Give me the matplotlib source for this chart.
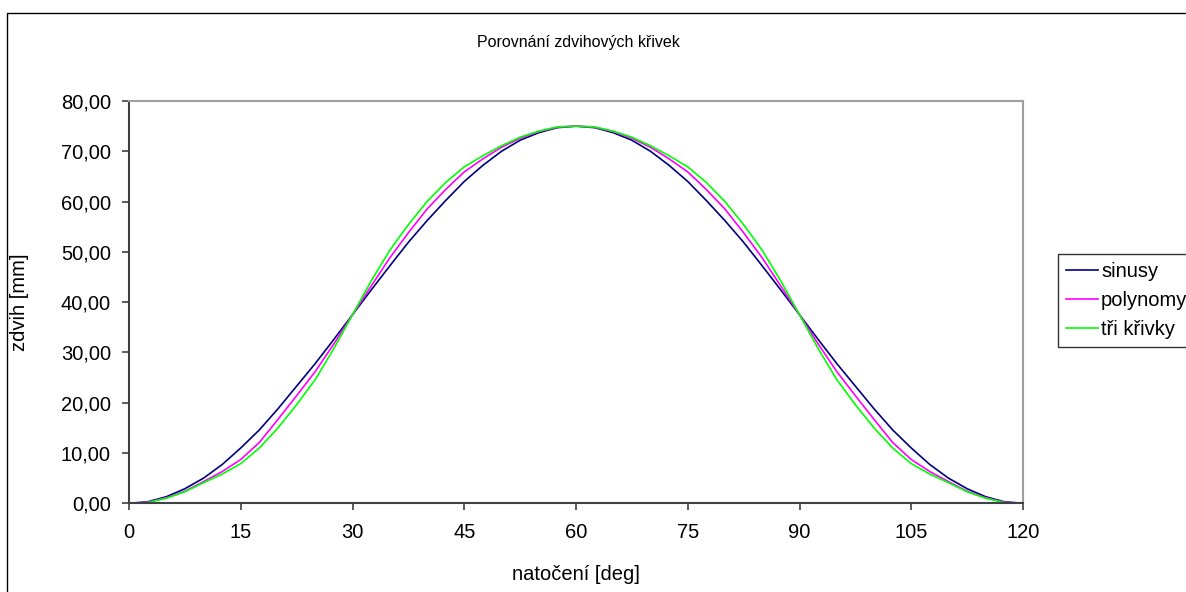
import matplotlib.pyplot as plt
from matplotlib.patches import Rectangle
from matplotlib.ticker import FuncFormatter

plt.rcParams['font.family'] = ['Liberation Sans', 'DejaVu Sans']

# ---------- Data ----------

natoceni = [0, 2.5, 5, 7.5, 10, 12.5, 15, 17.5, 20, 22.5, 25, 27.5, 30,
            32.5, 35, 37.5, 40, 42.5, 45, 47.5, 50, 52.5, 55, 57.5, 60,
            62.5, 65, 67.5, 70, 72.5, 75, 77.5, 80, 82.5, 85, 87.5, 90,
            92.5, 95, 97.5, 100, 102.5, 105, 107.5, 110, 112.5, 115, 117.5, 120]

sinusy = [0, 0.3, 1.3, 2.9, 5.0, 7.7, 11.0, 14.6, 18.8, 23.3, 27.8, 32.6, 37.5,
          42.4, 47.2, 51.9, 56.2, 60.2, 64.0, 67.2, 70.0, 72.2, 73.7, 74.7, 75.0,
          74.7, 73.7, 72.2, 70.0, 67.2, 64.0, 60.2, 56.2, 51.9, 47.2, 42.4, 37.5,
          32.6, 27.8, 23.3, 18.8, 14.6, 11.0, 7.7, 5.0, 2.9, 1.3, 0.3, 0]

polynomy = [0, 0.2, 1.1, 2.4, 4.3, 6.3, 8.7, 12.1, 16.7, 21.4, 26.2, 31.7, 37.5,
            43.2, 48.8, 53.8, 58.5, 62.4, 65.9, 68.5, 70.8, 72.6, 73.9, 74.8, 75.0,
            74.8, 73.9, 72.6, 70.8, 68.5, 65.9, 62.4, 58.5, 53.8, 48.8, 43.2, 37.5,
            31.7, 26.2, 21.4, 16.7, 12.1, 8.7, 6.3, 4.3, 2.4, 1.1, 0.2, 0]

tri_krivky = [0, 0.15, 1.0, 2.3, 4.1, 5.8, 7.9, 11.0, 15.0, 19.6, 24.6, 30.8, 37.5,
              44.2, 50.3, 55.4, 60.0, 63.8, 66.9, 69.1, 71.1, 72.8, 74.0, 74.85, 75.0,
              74.85, 74.0, 72.8, 71.1, 69.1, 66.9, 63.8, 60.0, 55.4, 50.3, 44.2, 37.5,
              30.8, 24.6, 19.6, 15.0, 11.0, 7.9, 5.8, 4.1, 2.3, 1.0, 0.15, 0]

x_ticks = [0, 15, 30, 45, 60, 75, 90, 105, 120]
y_ticks = [0, 10, 20, 30, 40, 50, 60, 70, 80]

# ---------- Plot ----------

W, H = 1186, 592
fig = plt.figure(figsize=(W / 100, H / 100), dpi=100)
ax = fig.add_axes([129 / W, (H - 503.3) / H, 894 / W, 402.3 / H])

ax.plot(natoceni, sinusy, color='#000080', lw=1.2, label='sinusy')
ax.plot(natoceni, polynomy, color='#FF00FF', lw=1.2, label='polynomy')
ax.plot(natoceni, tri_krivky, color='#00FF00', lw=1.2, label='tři křivky')

ax.set_xlim(0, 120)
ax.set_ylim(0, 80)
ax.set_xticks(x_ticks)
ax.set_yticks(y_ticks)
ax.yaxis.set_major_formatter(FuncFormatter(lambda v, p: f'{v:.2f}'.replace('.', ',')))

for s in ['left', 'bottom']:
    ax.spines[s].set_color('#404040')
    ax.spines[s].set_linewidth(1.5)
for s in ['top', 'right']:
    ax.spines[s].set_color('#a0a0a0')
    ax.spines[s].set_linewidth(1.5)

ax.tick_params(axis='both', labelsize=14.5, length=5, width=1.2, color='#404040')
ax.tick_params(axis='x', pad=9)
ax.tick_params(axis='y', pad=8)

fig.text(578 / W, (H - 43) / H, 'Porovnání zdvihových křivek', ha='center', va='center', fontsize=11.5)
fig.text(576 / W, (H - 575) / H, 'natočení [deg]', ha='center', va='center', fontsize=14.5)
fig.text(20 / W, (H - 302) / H, 'zdvih [mm]', ha='center', va='center', rotation=90, fontsize=14.5)

leg = ax.legend(loc='upper left', bbox_to_anchor=(1057.7 / W, (H - 254) / H),
                bbox_transform=fig.transFigure, frameon=True, fancybox=False,
                edgecolor='black', borderaxespad=0, handlelength=1.6,
                handletextpad=0.15, borderpad=0.4, labelspacing=0.5, fontsize=14.5)
leg.get_frame().set_linewidth(1)

# rámeček kolem celého grafu
fig.patches.append(Rectangle((7 / W, -0.1), 1.2, (H - 13) / H + 0.1, transform=fig.transFigure,
                             fill=False, edgecolor='black', lw=1))

fig.savefig('out.png', dpi=100)
